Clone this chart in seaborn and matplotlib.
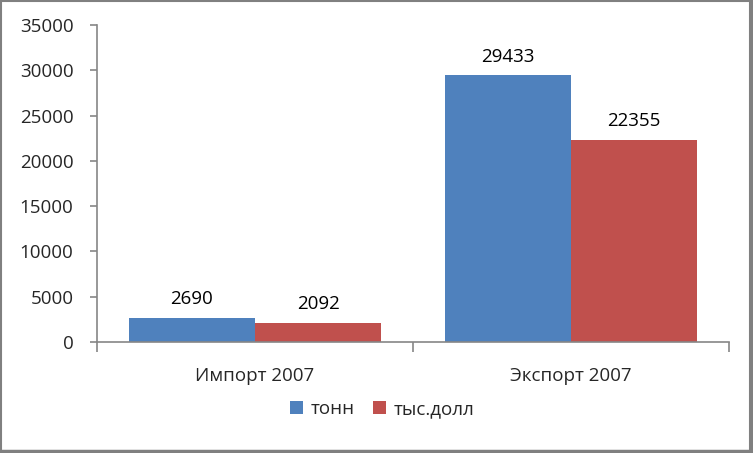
import matplotlib
matplotlib.use("Agg")
import matplotlib.pyplot as plt
import seaborn as sns
import pandas as pd
from matplotlib.patches import Rectangle

categories = ["Импорт 2007", "Экспорт 2007"]
series_names = ["тонн", "тыс.долл"]
tonn = [2690, 29433]
usd = [2092, 22355]
colors = ["#4F81BD", "#C0504D"]

df = pd.DataFrame({
    "cat": categories * 2,
    "series": [series_names[0]] * 2 + [series_names[1]] * 2,
    "value": tonn + usd,
})

sns.set_theme(style="white")
plt.rcParams["font.family"] = ["Open Sans", "DejaVu Sans"]
axis_gray = "#868686"
fs = 13.5

fig = plt.figure(figsize=(7.53, 4.53), dpi=100)
ax = fig.add_axes([97 / 753, 1 - 342 / 453, (729 - 97) / 753, (342 - 25) / 453])

sns.barplot(data=df, x="cat", y="value", hue="series", palette=colors,
            width=0.8, gap=0, saturation=1, ax=ax, linewidth=0, edgecolor="none")

for c in ax.containers:
    ax.bar_label(c, labels=[f"{int(v)}" for v in c.datavalues], padding=7,
                 fontsize=fs, color="black")

ax.set_xlim(-0.5, 1.5)
ax.set_ylim(0, 35000)
ax.set_yticks(range(0, 35001, 5000))
ax.set_yticklabels([str(v) for v in range(0, 35001, 5000)], fontsize=fs)
ax.set_xlabel("")
ax.set_ylabel("")
ax.set_xticks([0, 1])
ax.set_xticklabels(categories, fontsize=fs)
ax.set_xticks([-0.5, 0.5, 1.5], minor=True)
ax.tick_params(axis="x", which="major", length=0, pad=18)
ax.tick_params(axis="x", which="minor", length=7, width=1.2, color=axis_gray, direction="out", bottom=True)
ax.tick_params(axis="y", which="major", length=5, width=1.2, color=axis_gray, direction="out", left=True, pad=12)

for s in ["top", "right"]:
    ax.spines[s].set_visible(False)
for s in ["left", "bottom"]:
    ax.spines[s].set_color(axis_gray)
    ax.spines[s].set_linewidth(1.2)

leg = ax.legend(loc="center", bbox_to_anchor=(382 / 753, 1 - 409 / 453),
                bbox_transform=fig.transFigure, ncol=2, frameon=False,
                fontsize=fs, handlelength=0.7, handleheight=0.7,
                handletextpad=0.4, columnspacing=1.0)

# figure frame
fig.patches.append(Rectangle((1 / 753, 2 / 453), 749 / 753, 450 / 453,
                             transform=fig.transFigure, fill=False,
                             edgecolor="#808080", linewidth=1.5))
fig.patches.append(Rectangle((750 / 753, 0), 3 / 753, 453 / 453,
                             transform=fig.transFigure, color="#808080"))
fig.patches.append(Rectangle((0, 0), 753 / 753, 3 / 453,
                             transform=fig.transFigure, color="#808080"))

fig.savefig("out.png", dpi=100, facecolor="white")
